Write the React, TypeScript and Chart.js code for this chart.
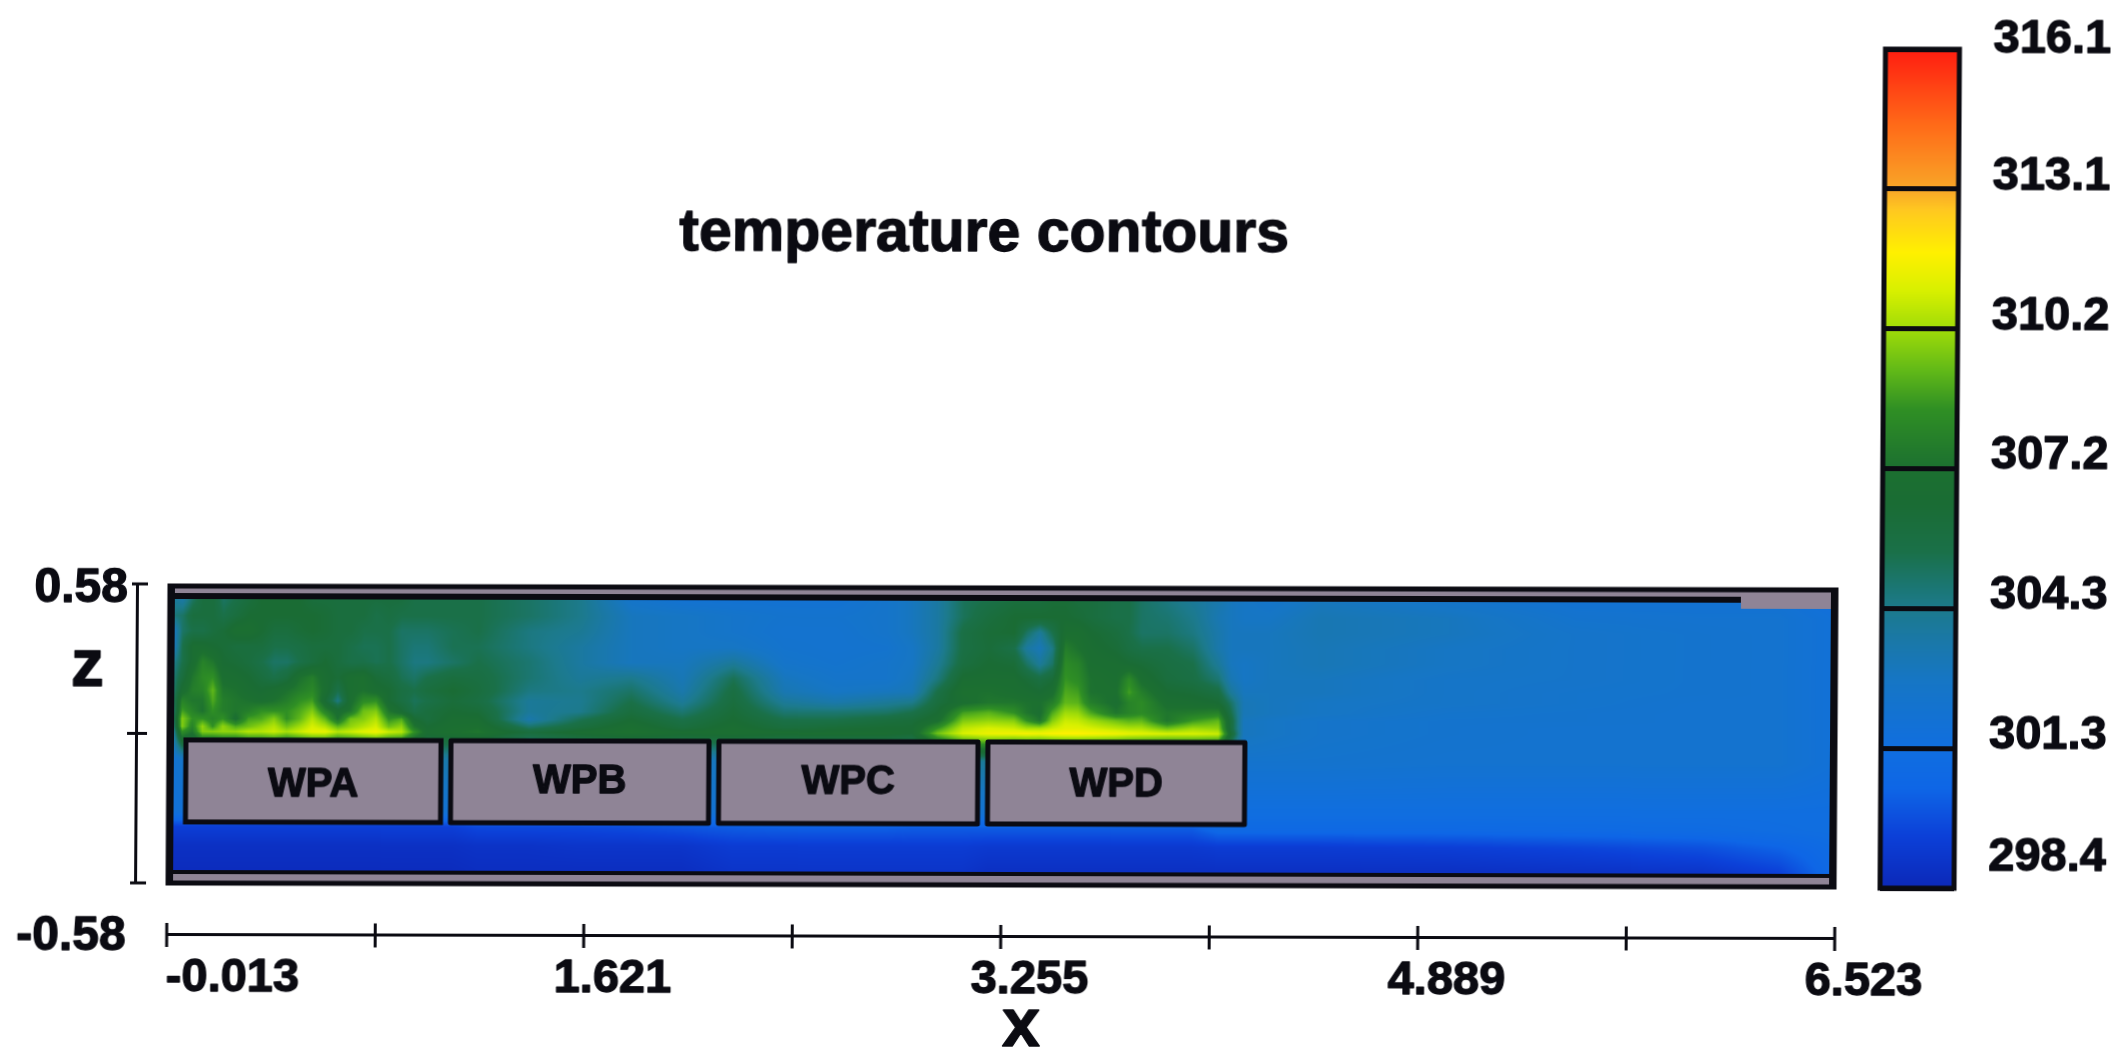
import { useEffect, useRef } from "react";
import { Chart, registerables } from "chart.js";

Chart.register(...registerables);

const chartTitle = "temperature contours";
const xAxisTitle = "x";
const zAxisTitle = "z";

const xMin = -0.013;
const xMax = 6.523;
const zMin = -0.58;
const zMax = 0.58;

const xTickValues = [-0.013, 0.804, 1.621, 2.438, 3.255, 4.072, 4.889, 5.706, 6.523];
const xTickLabels = ["-0.013", "", "1.621", "", "3.255", "", "4.889", "", "6.523"];
const zTickValues = [-0.58, 0, 0.58];
const zTickLabels = ["-0.58", "", "0.58"];

const barTickValues = [298.4, 301.35, 304.3, 307.25, 310.2, 313.15, 316.1];
const barTickLabels = ["298.4", "301.3", "304.3", "307.2", "310.2", "313.1", "316.1"];

const paletteTemps = [298.4, 299.5, 300.5, 301.3, 302.8, 303.6, 304.3, 304.8, 305.5, 306.5, 307.25, 308.5, 309.3, 310.2, 311.0, 311.8, 312.7, 313.1, 314.5, 316.1];
const paletteColors = ["#0c28b8", "#0c40d8", "#0e66e6", "#106ee0", "#1676c4", "#1a78a8", "#1c7a8c", "#1b7670", "#1a7048", "#1a6c34", "#1c7030", "#2f8f24", "#60b818", "#a0dc08", "#d8f000", "#fff000", "#ffc820", "#f8a828", "#ff6a18", "#ff1c10"];

const workpieceNames = ["WPA", "WPB", "WPC", "WPD"];
const workpieceStart = [0.0575, 1.096, 2.146, 3.2];
const workpieceEnd = [1.057, 2.107, 3.161, 4.207];
const workpieceTop = [-0.025, -0.025, -0.025, -0.025];
const workpieceBottom = [-0.343, -0.343, -0.343, -0.343];
const workpieceLabelZ = [-0.2, -0.185, -0.185, -0.19];
const sensorEndX = 6.147;

const gridX = [0, 0.04, 0.08, 0.12, 0.16, 0.2, 0.25, 0.3, 0.35, 0.4, 0.45, 0.5, 0.55, 0.6, 0.65, 0.7, 0.75, 0.8, 0.85, 0.9, 0.95, 1.0, 1.1, 1.2, 1.4, 1.6, 1.8, 2.0, 2.2, 2.4, 2.6, 2.8, 2.9, 3.0, 3.1, 3.2, 3.3, 3.35, 3.4, 3.45, 3.5, 3.55, 3.6, 3.7, 3.75, 3.8, 3.9, 4.0, 4.1, 4.15, 4.2, 4.3, 4.5, 5.0, 5.5, 6.0, 6.3, 6.5];
const gridZ = [0.53, 0.46, 0.4, 0.34, 0.28, 0.22, 0.17, 0.13, 0.09, 0.06, 0.03, 0.01, -0.1, -0.3, -0.36, -0.43, -0.52];

const tempZ053 = [304, 303.5, 305, 306, 306, 305, 305.5, 306, 306.5, 306.5, 306.5, 306.5, 306, 306, 306, 306, 306, 306, 306, 306, 305.5, 305.5, 305.5, 305.5, 305, 304.3, 302.5, 302, 302, 302, 302, 302.5, 303, 303.8, 305.2, 305.5, 306, 306, 306, 306.3, 306.3, 306, 306, 305.5, 305.5, 305, 304.5, 304, 303.5, 303, 302.8, 302.5, 303, 302.5, 302, 302, 302, 301.5];
const tempZ046 = [304.5, 305, 306, 306, 306, 305.5, 306, 306.5, 306.5, 306.5, 306.5, 306.5, 306.5, 306.3, 306, 306, 306, 305.5, 305.8, 305.5, 305.5, 305.5, 305.5, 305.5, 305, 304.3, 303, 302.8, 302.5, 302.3, 302.3, 302.5, 303, 303.8, 305.2, 306, 306.5, 306.5, 306.5, 306.5, 306.5, 306.3, 306, 305.5, 305.5, 305, 304.8, 304.3, 303.3, 303, 302.8, 302.8, 303.3, 303, 302.3, 302.2, 302.2, 301.8];
const tempZ040 = [302.5, 305, 305.5, 305.5, 306, 306.3, 307, 307, 306.5, 306, 306, 306.3, 306.5, 306.3, 306, 306, 305.5, 305.5, 305.5, 305, 305, 305, 305.3, 305.5, 304.5, 304.1, 303, 302.8, 302.5, 302.2, 302.2, 302.5, 303, 303.8, 305.7, 306.3, 306.5, 305, 304, 305.5, 307, 307, 306.5, 306, 305.5, 305, 305, 304.5, 303.5, 303, 303, 303, 303.3, 303, 302.5, 302.3, 302.2, 301.8];
const tempZ034 = [302.5, 305.5, 306.8, 306.8, 306.5, 306.3, 306, 306, 306, 305.5, 305.5, 305.7, 306, 306, 306, 305.5, 305.3, 305.3, 305.5, 305, 304.7, 304.7, 305.3, 305.3, 304.5, 303.8, 303, 302.8, 302.8, 302.3, 302.2, 302.3, 302.8, 303.8, 305.7, 306.2, 305.5, 303.8, 303.2, 304.5, 307.8, 307.3, 306.8, 306.3, 305.8, 305.5, 305.5, 305, 303.5, 303, 303, 303, 303.2, 302.8, 302.5, 302.3, 302.2, 301.8];
const tempZ028 = [304, 305.5, 306.8, 308, 307.5, 306.5, 306.3, 306, 305.5, 305, 305, 305.5, 306, 306.5, 306, 305.5, 305.5, 305.3, 305.5, 305, 304.5, 304.5, 305, 305.5, 304.8, 303.8, 303, 303, 304, 302.5, 302.3, 302.5, 302.8, 304.1, 305.9, 306.5, 306.3, 305, 304, 305, 308.3, 308, 307, 306.8, 306.5, 306.3, 305.8, 305.5, 304, 303, 302.8, 303, 303.2, 302.8, 302.5, 302.3, 302.2, 301.8];
const tempZ022 = [304.5, 306, 307.5, 308.3, 308.5, 307, 306.8, 306.5, 306, 305.5, 306, 307.3, 307.8, 306.8, 306.3, 307, 307.2, 306.3, 306, 305.3, 305, 305.5, 306, 305.8, 304.8, 304, 304.3, 303.2, 305.3, 303, 302.5, 302.5, 303, 304.6, 306.7, 306.8, 306.8, 306.3, 305.8, 306.3, 308.6, 308.3, 307.3, 307, 308.3, 307, 306, 305.7, 304.8, 303.3, 302.8, 303, 303, 302.6, 302.5, 302.3, 302.2, 301.8];
const tempZ017 = [304.5, 306.8, 307.8, 308, 309.3, 307.5, 307.3, 306.8, 306.5, 306.8, 307.3, 307.8, 308.2, 307, 305.5, 307, 307.3, 306.8, 306.5, 305.8, 305.5, 306, 306.5, 306, 304.5, 304.3, 305, 303.5, 305.8, 303.3, 302.8, 303, 303.2, 305.6, 307.2, 307.3, 307, 306.8, 306.5, 307, 309, 308.8, 307.3, 307.2, 308.8, 307.8, 306.5, 306.3, 305.8, 304, 303, 303, 303, 302.6, 302.4, 302.3, 302.2, 301.8];
const tempZ013 = [304.5, 308, 307.5, 307.5, 309, 307.8, 307.5, 307.3, 307, 307.3, 307.8, 308.5, 308.8, 306.5, 304.5, 307, 308.3, 308.5, 306.5, 305.8, 305.2, 305.5, 306.2, 305.8, 304, 304.2, 305.5, 304, 306, 304, 303.5, 304, 304.3, 306, 307, 307.5, 307.5, 307.3, 307.2, 307.8, 309.3, 309.2, 307.8, 307, 308, 308.3, 307, 306.8, 306.5, 305, 303.2, 303, 302.8, 302.6, 302.4, 302.2, 302.2, 301.8];
const tempZ009 = [304, 308.8, 308, 307.3, 308.5, 307.8, 307.5, 307.8, 308.5, 308.5, 308.5, 309, 309.8, 308, 306.8, 307.5, 309.5, 309.8, 307.5, 306.5, 305.5, 306, 306.5, 306.3, 304, 304.3, 306, 304.8, 306.3, 304.8, 304.8, 305, 305.5, 306.5, 308.8, 309.2, 308.5, 307.5, 307, 309, 310.2, 310.1, 309, 307.5, 308, 308.3, 307.5, 307.7, 308, 305.5, 303.2, 303, 302.8, 302.4, 302.3, 302.2, 302.2, 301.8];
const tempZ006 = [304, 309.8, 308.5, 308.5, 308, 308.5, 307, 308.8, 309, 309.8, 308.5, 309.3, 310.5, 309.3, 307.3, 309.5, 309.8, 310.5, 308.5, 309, 306.5, 306, 306.8, 306.8, 303.5, 305.3, 306.5, 305.5, 306.5, 305.5, 305.5, 306, 306.2, 307, 309.7, 310, 309.8, 308.5, 307.5, 309.8, 310.8, 310.7, 310.2, 309.5, 309.2, 309.3, 307.5, 308.7, 309.3, 306, 303, 302.8, 302.5, 302.3, 302.3, 302.2, 302.2, 301.8];
const tempZ003 = [303.5, 309.8, 308, 310, 308.5, 310, 309, 309.5, 310, 310.5, 309.5, 310.2, 311, 310.5, 309.3, 310, 310.5, 311, 309.5, 310, 307.5, 306.5, 307, 307.2, 305, 306, 307, 306, 306.8, 306, 306.3, 306.5, 306.5, 308.5, 310.6, 311, 310.8, 310.3, 310.3, 310.8, 311.2, 311.2, 311, 310.6, 310.4, 310.4, 309.5, 310.2, 310, 306, 303, 302.8, 302.5, 302.3, 302.2, 302.2, 302.2, 301.8];
const tempZ001 = [303, 308.5, 307.5, 309.8, 309.8, 310, 310, 310.5, 310.5, 310.8, 310.3, 310.8, 311.3, 311.3, 310.5, 310.8, 311.2, 311.5, 310.8, 310.5, 308.5, 306.8, 307.2, 307.5, 306, 306.8, 307.3, 306.8, 307, 306.8, 306.8, 306.8, 306.5, 309.5, 311, 311.4, 311.5, 311.6, 311.5, 311.7, 311.8, 311.8, 311.7, 311.5, 311.3, 311.2, 311, 311, 310.8, 306.5, 303, 302.8, 302.5, 302.3, 302.2, 302.2, 302.2, 301.8];
const tempZm010 = [302, 302.5, 302.5, 302.5, 302.5, 302.5, 302.5, 302.5, 302.5, 302.5, 302.5, 302.5, 302.5, 302.5, 302.5, 302.5, 302.5, 302.5, 302.5, 302.5, 302.5, 303.5, 303.5, 303, 302.5, 302.5, 302.5, 303, 303, 302.5, 302.5, 302.5, 302.5, 303, 304, 304, 302.5, 302.5, 302.5, 302.5, 302.5, 302.5, 302.5, 302.5, 302.5, 302.5, 302.5, 302.5, 302.5, 302.5, 302.3, 302.3, 302.3, 302.2, 302.2, 302.2, 302.2, 301.8];
const tempZm030 = [301.6, 301.8, 301.8, 301.8, 301.8, 301.8, 301.8, 301.8, 301.8, 301.8, 301.8, 301.8, 301.8, 301.8, 301.8, 301.8, 301.8, 301.8, 301.8, 301.8, 301.8, 302, 302, 301.8, 301.8, 301.8, 301.8, 302, 302, 301.8, 301.8, 301.8, 301.8, 301.8, 302, 302, 301.8, 301.8, 301.8, 301.8, 301.8, 301.8, 301.8, 301.8, 301.8, 301.8, 301.8, 301.8, 301.8, 301.7, 301.3, 301.3, 301.3, 301.3, 301.3, 301.3, 301.3, 301.3];
const tempZm036 = [299.4, 299.4, 299.4, 299.4, 299.4, 299.4, 299.4, 299.4, 299.4, 299.4, 299.4, 299.4, 299.4, 299.4, 299.4, 299.4, 299.4, 299.4, 299.4, 299.4, 299.4, 299.4, 299.4, 299.7, 299.7, 299.7, 299.8, 300, 300.2, 300.3, 300.3, 300.3, 300.2, 300.2, 300.2, 300.2, 300.2, 300.2, 300.2, 300.2, 300.2, 300.2, 300.2, 300.2, 300.2, 300.2, 300.2, 300.2, 300.8, 300.8, 300.8, 300.8, 300.8, 300.8, 300.9, 301, 301.2, 301.3];
const tempZm043 = [298.8, 298.8, 298.8, 298.8, 298.8, 298.8, 298.8, 298.8, 298.8, 298.8, 298.8, 298.8, 298.8, 298.8, 298.8, 298.8, 298.8, 298.8, 298.8, 298.8, 298.8, 298.8, 298.8, 298.9, 298.9, 299, 299, 299, 299.3, 299.3, 299.3, 299.3, 299.3, 299.3, 299.3, 299.2, 299.2, 299.2, 299.2, 299.2, 299.2, 299.2, 299.2, 299.2, 299.2, 299.2, 299.2, 299.2, 299.3, 299.3, 299.3, 299.3, 299.3, 299.4, 299.6, 299.9, 300.4, 301];
const tempZm052 = [298.6, 298.6, 298.6, 298.6, 298.6, 298.6, 298.6, 298.6, 298.6, 298.6, 298.6, 298.6, 298.6, 298.6, 298.6, 298.6, 298.6, 298.6, 298.6, 298.6, 298.6, 298.6, 298.6, 298.7, 298.7, 298.7, 298.7, 298.7, 299, 299, 299, 299, 299, 299, 299, 298.8, 298.8, 298.8, 298.8, 298.8, 298.8, 298.8, 298.8, 298.8, 298.8, 298.8, 298.8, 298.8, 298.8, 298.8, 298.8, 298.8, 298.8, 298.8, 298.9, 299, 299.5, 300.8];

const tempRows = [tempZ053, tempZ046, tempZ040, tempZ034, tempZ028, tempZ022, tempZ017, tempZ013, tempZ009, tempZ006, tempZ003, tempZ001, tempZm010, tempZm030, tempZm036, tempZm043, tempZm052];

const FONT = '"Liberation Sans", Arial, sans-serif';
const INK = "#0b0b12";
const PANEL = "#8f8496";

function hexToRgb(hex: string) {
  return [parseInt(hex.slice(1, 3), 16), parseInt(hex.slice(3, 5), 16), parseInt(hex.slice(5, 7), 16)];
}
const paletteRgb = paletteColors.map(hexToRgb);

function tempToRgb(t: number) {
  if (t <= paletteTemps[0]) return paletteRgb[0];
  const last = paletteTemps.length - 1;
  if (t >= paletteTemps[last]) return paletteRgb[last];
  let i = 0;
  while (t > paletteTemps[i + 1]) i++;
  const f = (t - paletteTemps[i]) / (paletteTemps[i + 1] - paletteTemps[i]);
  const a = paletteRgb[i];
  const b = paletteRgb[i + 1];
  return [a[0] + (b[0] - a[0]) * f, a[1] + (b[1] - a[1]) * f, a[2] + (b[2] - a[2]) * f];
}

function bracket(axis: number[], v: number, descending: boolean) {
  const n = axis.length;
  if (!descending) {
    if (v <= axis[0]) return [0, 0, 0];
    if (v >= axis[n - 1]) return [n - 1, n - 1, 0];
    let i = 0;
    while (v > axis[i + 1]) i++;
    return [i, i + 1, (v - axis[i]) / (axis[i + 1] - axis[i])];
  }
  if (v >= axis[0]) return [0, 0, 0];
  if (v <= axis[n - 1]) return [n - 1, n - 1, 0];
  let i = 0;
  while (v < axis[i + 1]) i++;
  return [i, i + 1, (axis[i] - v) / (axis[i] - axis[i + 1])];
}

function text(ctx: CanvasRenderingContext2D, s: string, x: number, y: number, size: number, align: CanvasTextAlign) {
  ctx.font = `bold ${size}px ${FONT}`;
  ctx.fillStyle = INK;
  ctx.strokeStyle = INK;
  ctx.lineWidth = 1.3;
  ctx.lineJoin = "round";
  ctx.textAlign = align;
  ctx.textBaseline = "middle";
  ctx.fillText(s, x, y);
  ctx.strokeText(s, x, y);
}

const fieldPlugin = {
  id: "temperatureField",
  beforeDatasetsDraw(chart: any) {
    const { ctx, chartArea: a, scales } = chart;
    const x = scales.x;
    const z = scales.y;
    ctx.save();
    ctx.fillStyle = PANEL;
    ctx.fillRect(a.left, a.top, a.right - a.left, a.bottom - a.top);

    const left = Math.round(x.getPixelForValue(gridX[0]));
    const right = Math.round(x.getPixelForValue(gridX[gridX.length - 1]));
    const top = Math.round(z.getPixelForValue(0.57)) + 12;
    const bottom = Math.round(z.getPixelForValue(-0.53));
    const w = right - left;
    const h = bottom - top;
    const off = document.createElement("canvas");
    off.width = w;
    off.height = h;
    const octx = off.getContext("2d") as CanvasRenderingContext2D;
    const img = octx.createImageData(w, h);
    const cols = [];
    for (let px = 0; px < w; px++) cols.push(bracket(gridX, x.getValueForPixel(left + px), false));
    for (let py = 0; py < h; py++) {
      const [r0, r1, fr] = bracket(gridZ, z.getValueForPixel(top + py), true);
      const ra = tempRows[r0];
      const rb = tempRows[r1];
      for (let px = 0; px < w; px++) {
        const [c0, c1, fc] = cols[px];
        const t0 = ra[c0] + (ra[c1] - ra[c0]) * fc;
        const t1 = rb[c0] + (rb[c1] - rb[c0]) * fc;
        const rgb = tempToRgb(t0 + (t1 - t0) * fr);
        const k = (py * w + px) * 4;
        img.data[k] = rgb[0];
        img.data[k + 1] = rgb[1];
        img.data[k + 2] = rgb[2];
        img.data[k + 3] = 255;
      }
    }
    octx.putImageData(img, 0, 0);
    ctx.drawImage(off, left, top);

    // housing lines around the field
    ctx.fillStyle = INK;
    const sensorEnd = x.getPixelForValue(sensorEndX);
    ctx.fillRect(a.left, top - 6, sensorEnd - a.left, 6);
    ctx.fillStyle = PANEL;
    ctx.fillRect(sensorEnd, top - 6, right - sensorEnd, 12);
    ctx.fillStyle = INK;
    ctx.fillRect(a.left, bottom, a.right - a.left, 4);
    ctx.lineWidth = 5;
    ctx.strokeStyle = INK;
    ctx.strokeRect(a.left + 1, a.top + 2, a.right - a.left - 2, a.bottom - a.top - 2);
    ctx.fillRect(a.left, a.top, 6, a.bottom - a.top);
    ctx.fillRect(right, a.top, a.right - right, a.bottom - a.top);

    // work pieces
    workpieceNames.forEach((name, i) => {
      const l = x.getPixelForValue(workpieceStart[i]);
      const r = x.getPixelForValue(workpieceEnd[i]);
      const t = z.getPixelForValue(workpieceTop[i]);
      const b = z.getPixelForValue(workpieceBottom[i]);
      ctx.fillStyle = PANEL;
      ctx.fillRect(l, t, r - l, b - t);
      ctx.lineWidth = 5;
      ctx.strokeStyle = INK;
      ctx.strokeRect(l, t, r - l, b - t);
      text(ctx, name, (l + r) / 2, z.getPixelForValue(workpieceLabelZ[i]), 40, "center");
    });
    ctx.restore();
  },
  afterDraw(chart: any) {
    const { ctx, scales } = chart;
    const x = scales.x;
    const z = scales.y;
    const axisY = z.getPixelForValue(x.options.position.y);
    const axisX = x.getPixelForValue(z.options.position.x);
    x.ticks.forEach((tick: any, i: number) => {
      const p = x.getPixelForValue(tick.value);
      ctx.strokeStyle = INK;
      ctx.lineWidth = 3;
      ctx.beginPath();
      ctx.moveTo(p, axisY - 12);
      ctx.lineTo(p, axisY + 12);
      ctx.stroke();
      if (xTickLabels[i]) text(ctx, xTickLabels[i], p + (i === 0 ? 66 : 29), 978, 47, "center");
    });
    z.ticks.forEach((tick: any, i: number) => {
      const p = z.getPixelForValue(tick.value);
      ctx.strokeStyle = INK;
      ctx.lineWidth = 3;
      ctx.beginPath();
      ctx.moveTo(axisX - (i === 1 ? 10 : 6), p);
      ctx.lineTo(axisX + 10, p);
      ctx.stroke();
      if (zTickLabels[i]) text(ctx, zTickLabels[i], 128, i === 0 ? p + 54 : p + 5, 48, "right");
    });
    text(ctx, zAxisTitle, 88, 668, 66, "center");
    text(ctx, xAxisTitle, 1024, 1025, 68, "center");
    text(ctx, chartTitle, 982, 233, 59, "center");
  },
};

const colorBarPlugin = {
  id: "colorBarRamp",
  beforeDraw(chart: any) {
    const { ctx, chartArea: a, scales } = chart;
    const s = scales.y;
    for (let py = Math.floor(a.top); py < a.bottom; py++) {
      const c = tempToRgb(s.getValueForPixel(py + 0.5));
      ctx.fillStyle = `rgb(${c[0]},${c[1]},${c[2]})`;
      ctx.fillRect(a.left, py, a.right - a.left, 1);
    }
  },
  afterDraw(chart: any) {
    const { ctx, chartArea: a, scales } = chart;
    const s = scales.y;
    ctx.save();
    ctx.strokeStyle = INK;
    ctx.lineWidth = 5;
    ctx.strokeRect(a.left, a.top, a.right - a.left, a.bottom - a.top);
    ctx.restore();
    s.ticks.forEach((tick: any, i: number) => {
      const p = s.getPixelForValue(tick.value);
      text(ctx, barTickLabels[i], 1990, p + (i === 0 ? -31 : i === 6 ? -10 : -13), 47, "left");
    });
  },
};

const skewStyle: any = {
  position: "absolute",
  left: 0,
  top: 0,
  transform: "matrix(1, 0.0024, -0.0065, 1, 0, 0)",
  transformOrigin: "168px 584px",
  filter: "blur(0.7px)",
};

export default function App() {
  const fieldRef = useRef<HTMLCanvasElement>(null);
  const barRef = useRef<HTMLCanvasElement>(null);

  useEffect(() => {
    const cells: { x: number; y: number; t: number }[] = [];
    gridZ.forEach((zv, r) => gridX.forEach((xv, c) => cells.push({ x: xv, y: zv, t: tempRows[r][c] })));

    const field = new Chart(fieldRef.current as HTMLCanvasElement, {
      type: "scatter",
      data: { datasets: [{ label: "temperature", data: cells, pointRadius: 0 }] },
      plugins: [fieldPlugin],
      options: {
        animation: false,
        responsive: false,
        events: [],
        layout: { padding: { left: 169, top: 584, right: 290, bottom: 164 } },
        plugins: { legend: { display: false }, tooltip: { enabled: false } },
        scales: {
          x: {
            type: "linear",
            position: { y: -0.7816 },
            min: xMin,
            max: xMax,
            afterBuildTicks: (s: any) => { s.ticks = xTickValues.map((value) => ({ value })); },
            ticks: { display: false },
            grid: { display: false, drawTicks: false },
            border: { display: true, color: INK, width: 3 },
          },
          y: {
            type: "linear",
            position: { x: -0.1345 },
            min: zMin,
            max: zMax,
            afterBuildTicks: (s: any) => { s.ticks = zTickValues.map((value) => ({ value })); },
            ticks: { display: false },
            grid: { display: false, drawTicks: false },
            border: { display: true, color: INK, width: 3 },
          },
        },
      } as any,
    });

    const bar = new Chart(barRef.current as HTMLCanvasElement, {
      type: "scatter",
      data: { datasets: [{ label: "scale", data: barTickValues.map((v) => ({ x: 0, y: v })), pointRadius: 0 }] },
      plugins: [colorBarPlugin],
      options: {
        animation: false,
        responsive: false,
        events: [],
        layout: { padding: { left: 1882, top: 45, right: 171, bottom: 163 } },
        plugins: { legend: { display: false }, tooltip: { enabled: false } },
        scales: {
          x: { type: "linear", display: false },
          y: {
            type: "linear",
            min: barTickValues[0],
            max: barTickValues[barTickValues.length - 1],
            afterBuildTicks: (s: any) => { s.ticks = barTickValues.map((value) => ({ value })); },
            afterFit: (s: any) => { s.width = 0; },
            ticks: { display: false },
            grid: { color: INK, lineWidth: 5, drawTicks: false },
            border: { display: false },
          },
        },
      } as any,
    });

    return () => {
      field.destroy();
      bar.destroy();
    };
  }, []);

  return (
    <div style={{ position: "fixed", inset: 0, overflow: "hidden", background: "#ffffff" }}>
      <canvas ref={fieldRef} width={2127} height={1047} style={skewStyle} />
      <canvas ref={barRef} width={2127} height={1047} style={skewStyle} />
    </div>
  );
}
